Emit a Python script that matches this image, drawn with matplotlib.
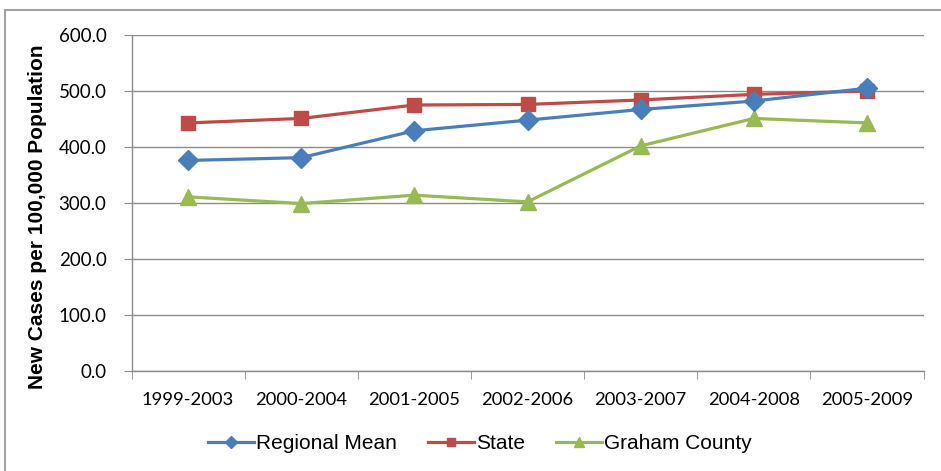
import matplotlib.pyplot as plt
from matplotlib.patches import Rectangle
from matplotlib.ticker import FixedLocator, NullFormatter

periods = ['1999-2003', '2000-2004', '2001-2005', '2002-2006',
           '2003-2007', '2004-2008', '2005-2009']
regional_mean = [376, 381, 429, 448, 467, 482, 505]
state = [443, 451, 475, 476, 484, 494, 500]
graham_county = [311, 299, 314, 302, 402, 451, 443]

y_ticks = [0, 100, 200, 300, 400, 500, 600]

BLUE = '#4A7EBB'
RED = '#BE4B48'
GREEN = '#98B954'
GRID = '#8C8C8C'

W, H = 941, 471
fig = plt.figure(figsize=(W / 100, H / 100), dpi=100)
fig.patch.set_facecolor('white')

# outer chart frame
fig.patches.append(Rectangle((5 / W, -0.02), 1.0, 1 - 10 / H + 0.02,
                             transform=fig.transFigure, fill=False,
                             edgecolor='#A0A0A0', linewidth=1.5))

ax = fig.add_axes([131.5 / W, 1 - 371 / H, (923.5 - 131.5) / W, (371 - 35) / H])
x = list(range(len(periods)))

ax.plot(x, regional_mean, color=BLUE, lw=2.3, marker='D', ms=10.5,
        label='Regional Mean', zorder=4)
ax.plot(x, state, color=RED, lw=2.3, marker='s', ms=10,
        label='State', zorder=3)
ax.plot(x, graham_county, color=GREEN, lw=2.3, marker='^', ms=12,
        label='Graham County', zorder=2)

ax.set_xlim(-0.5, len(periods) - 0.5)
ax.set_ylim(0, 600)
ax.set_yticks(y_ticks)
ax.set_yticklabels([f'{v:.1f}' for v in y_ticks], fontsize=13.5, family='Lato')
ax.yaxis.grid(True, color=GRID, lw=1)
ax.set_axisbelow(True)

ax.set_xticks(x)
ax.set_xticklabels(periods, fontsize=13.2, family='Lato')
ax.tick_params(axis='x', which='major', length=0, pad=15)
ax.xaxis.set_minor_locator(FixedLocator([i - 0.5 for i in range(len(periods) + 1)]))
ax.xaxis.set_minor_formatter(NullFormatter())
ax.tick_params(axis='x', which='minor', length=6, color=GRID, direction='out')
ax.tick_params(axis='y', length=6, color=GRID, direction='out', pad=12)

for s in ['top', 'right']:
    ax.spines[s].set_visible(False)
for s in ['left', 'bottom']:
    ax.spines[s].set_color(GRID)
    ax.spines[s].set_linewidth(1)

ax.set_ylabel('New Cases per 100,000 Population', fontsize=15,
              fontweight='bold', family='Liberation Sans')
ax.yaxis.set_label_coords(-0.107, 0.46)

ax.legend(loc='center', bbox_to_anchor=(0.44, -0.216), ncol=3,
          frameon=False, prop={'family': 'Liberation Sans', 'size': 15},
          handlelength=2.2, columnspacing=1.5, handletextpad=0.1,
          markerscale=0.6)

fig.savefig('out.png', dpi=100)
